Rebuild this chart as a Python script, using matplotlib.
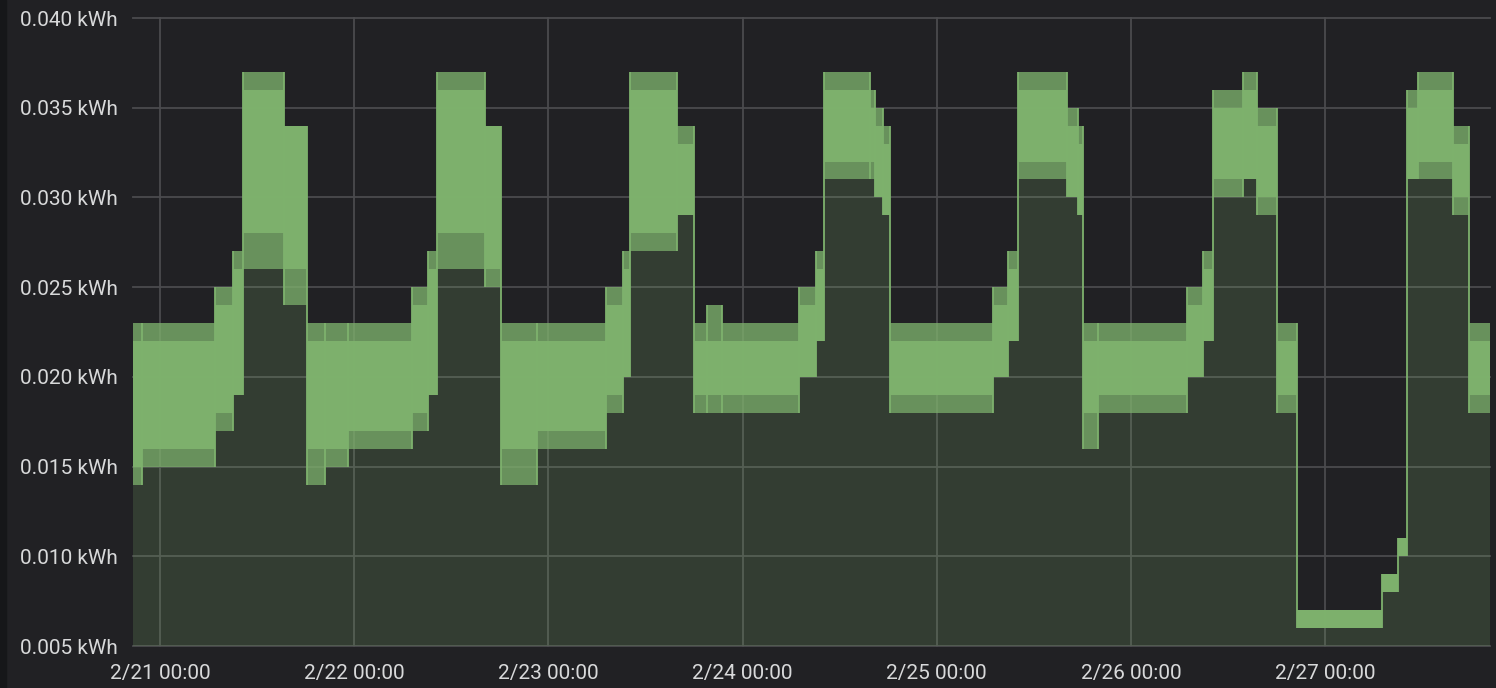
import matplotlib
matplotlib.use("Agg")
import matplotlib.pyplot as plt
import numpy as np
from matplotlib.patches import Rectangle

# ---- data (hours since 2/21 00:00, kWh) ----
# segment boundaries; last entry is end of data
seg_t = [-3.34, -2.26, 6.80, 9.02, 10.22, 15.32, 18.17, 20.39, 23.23, 31.14,
         33.12, 34.23, 40.17, 42.11, 46.59, 55.12, 57.22, 58.08, 63.89, 65.99,
         67.60, 69.45, 78.97, 81.07, 82.06, 87.75, 88.36, 89.35, 90.22, 102.95,
         104.80, 106.04, 112.09, 113.45, 114.07, 115.92, 126.92, 128.90, 130.13, 133.84,
         135.57, 138.04, 140.52, 151.02, 153.00, 154.11, 155.47, 159.79, 161.77, 164.37]
# peak value reached in each segment
seg_max = [.023, .023, .025, .027, .037, .034, .023, .023, .023, .025,
           .027, .037, .034, .023, .023, .025, .027, .037, .034, .023,
           .024, .023, .025, .027, .037, .036, .035, .034, .023, .025,
           .027, .037, .035, .034, .023, .023, .025, .027, .036, .037,
           .035, .023, .007, .009, .011, .036, .037, .034, .023]
# upper edge of the dense band
seg_top = [.022, .022, .024, .026, .036, .034, .022, .022, .022, .024,
           .026, .036, .034, .022, .022, .024, .026, .036, .033, .022,
           .022, .022, .024, .026, .036, .035, .034, .033, .022, .024,
           .026, .036, .034, .033, .022, .022, .024, .026, .035, .036,
           .034, .022, .007, .009, .011, .035, .036, .033, .022]
# lower edge of the dense band
seg_low = [.015, .016, .018, .019, .028, .026, .016, .016, .017, .018,
           .019, .028, .026, .016, .017, .019, .020, .028, .029, .019,
           .019, .019, .020, .022, .032, .032, .030, .029, .019, .020,
           .022, .032, .030, .029, .018, .019, .020, .022, .031, .031,
           .030, .019, .006, .008, .010, .031, .032, .030, .019]
# lowest value reached in each segment
seg_min = [.014, .015, .017, .019, .026, .024, .014, .015, .016, .017,
           .019, .026, .025, .014, .016, .018, .020, .027, .029, .018,
           .018, .018, .020, .022, .031, .031, .030, .029, .018, .020,
           .022, .031, .030, .029, .016, .018, .020, .022, .030, .031,
           .029, .018, .006, .008, .010, .031, .031, .029, .018]

x_ticks = [0, 24, 48, 72, 96, 120, 144]
x_labels = ["2/21 00:00", "2/22 00:00", "2/23 00:00", "2/24 00:00",
            "2/25 00:00", "2/26 00:00", "2/27 00:00"]
y_ticks = [0.005, 0.010, 0.015, 0.020, 0.025, 0.030, 0.035, 0.040]
y_labels = [f"{v:.3f} kWh" for v in y_ticks]

# ---- style ----
BG = "#212124"
GREEN = "#7EB26D"
GRID = "#4b4b4e"
TXT = "#d8d9da"

plt.rcParams["font.family"] = ["Roboto", "DejaVu Sans"]

fig = plt.figure(figsize=(14.96, 6.88), dpi=100, facecolor=BG)
fig.patches.append(Rectangle((0, 0), 6 / 1496, 1, transform=fig.transFigure,
                             color="#161719", zorder=0))
ax = fig.add_axes([133 / 1496, 1 - 646 / 688, (1490 - 133) / 1496, (646 - 18) / 688])
ax.set_facecolor(BG)

t = np.array(seg_t)
def st(v):
    v = np.asarray(v, dtype=float)
    return np.append(v, v[-1])

hi, top, lo, mn = (np.array(seg_max), np.array(seg_top),
                   np.array(seg_low), np.array(seg_min))

ymin, ymax = 0.005, 0.040
# area fill under the series
ax.fill_between(t, ymin, st(hi), step="post", color=GREEN, alpha=0.2, lw=0, zorder=2)
# sparse oscillation range
ax.fill_between(t, st(mn), st(hi), step="post", color=GREEN, alpha=0.72, lw=0, zorder=3)
# dense oscillation band
ax.fill_between(t, st(lo), st(top), step="post", color=GREEN, alpha=0.97, lw=0, zorder=4)
# line jumps between segments
ax.vlines(t[1:-1], np.minimum(mn[:-1], mn[1:]), np.maximum(hi[:-1], hi[1:]),
          color=GREEN, lw=1.3, zorder=5)

ax.set_xlim(t[0], t[-1])
ax.set_ylim(ymin, ymax)

# grid
for yv in y_ticks:
    ax.plot([t[0], t[-1]], [yv, yv], color=GRID, lw=1.3, zorder=1, clip_on=False)
for xv in x_ticks:
    ax.plot([xv, xv], [ymin, ymax], color=GRID, lw=1.3, zorder=1, clip_on=False)

for s in ax.spines.values():
    s.set_visible(False)

ax.set_xticks(x_ticks)
ax.set_xticklabels(x_labels)
ax.set_yticks(y_ticks)
ax.set_yticklabels(y_labels)
ax.tick_params(axis="both", length=0, colors=TXT, labelsize=15)
ax.tick_params(axis="y", pad=11)
ax.tick_params(axis="x", pad=13)

fig.savefig("out.png", dpi=100, facecolor=BG)
